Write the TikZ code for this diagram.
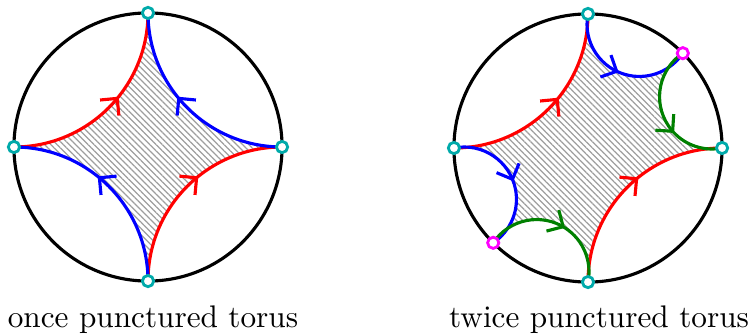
\documentclass[tikz,border=0pt]{standalone}
\usetikzlibrary{decorations.markings,patterns.meta}
\definecolor{vcyan}{RGB}{0,170,170}
\definecolor{vmag}{RGB}{255,0,255}
\definecolor{vgreen}{RGB}{0,128,0}
\tikzset{
  curve/.style={line width=1pt},
  rim/.style={line width=1pt, black},
  arr/.style={postaction={decorate},
    decoration={markings, mark=at position #1 with {\draw[line width=1pt] (-3.9pt,3.9pt) -- (0,0) -- (-3.9pt,-3.9pt);}}},
  hatch/.style={pattern={Lines[angle=-45,distance=1.4pt,line width=0.4pt]}, pattern color=black!38},
  vtx/.style={circle, draw=vcyan, fill=white, line width=0.9pt, inner sep=0pt, minimum size=3.6pt},
  ptx/.style={circle, draw=vmag, fill=white, line width=0.9pt, inner sep=0pt, minimum size=3.6pt},
  lab/.style={anchor=base, inner sep=0pt}
}
\def\rh{0.39018}
\begin{document}
\begin{tikzpicture}
\useasboundingbox (0,0) rectangle (240pt,107.2pt);
% ---------- left disk ----------
\begin{scope}[shift={(47.36pt,60.16pt)}, x=42.9pt, y=42.9pt]
  \coordinate (lL) at (180:1);
  \coordinate (lT) at (90:1);
  \coordinate (lR) at (0:1);
  \coordinate (lB) at (270:1);
  \path[hatch] (lL) arc[start angle=270,end angle=360,radius=1]
     arc[start angle=180,end angle=270,radius=1]
     arc[start angle=90,end angle=180,radius=1]
     arc[start angle=0,end angle=90,radius=1] -- cycle;
  \draw[rim] (0,0) circle[radius=1];
  \draw[curve,red,arr=0.56] (lL) arc[start angle=270,end angle=360,radius=1];
  \draw[curve,red,arr=0.56] (lB) arc[start angle=180,end angle=90,radius=1];
  \draw[curve,blue,arr=0.56] (lR) arc[start angle=270,end angle=180,radius=1];
  \draw[curve,blue,arr=0.56] (lB) arc[start angle=0,end angle=90,radius=1];
  \node[vtx] (lLv) at (lL) {};
  \node[vtx] (lTv) at (lT) {};
  \node[vtx] (lRv) at (lR) {};
  \node[vtx] (lBv) at (lB) {};
\end{scope}
% ---------- right disk ----------
\begin{scope}[shift={(188.16pt,59.84pt)}, x=42.9pt, y=42.9pt]
  \coordinate (rL) at (180:1);
  \coordinate (rT) at (90:1);
  \coordinate (rR) at (0:1);
  \coordinate (rB) at (270:1);
  \coordinate (rM1) at (45:1);
  \coordinate (rM2) at (225:1);
  \path[hatch] (rL) arc[start angle=270,end angle=360,radius=1]
     arc[start angle=168.75,end angle=326.25,radius=\rh]
     arc[start angle=123.75,end angle=281.25,radius=\rh]
     arc[start angle=90,end angle=180,radius=1]
     arc[start angle=-11.25,end angle=146.25,radius=\rh]
     arc[start angle=-56.25,end angle=101.25,radius=\rh] -- cycle;
  \draw[rim] (0,0) circle[radius=1];
  \draw[curve,red,arr=0.56] (rL) arc[start angle=270,end angle=360,radius=1];
  \draw[curve,red,arr=0.56] (rB) arc[start angle=180,end angle=90,radius=1];
  \draw[curve,blue,arr=0.48] (rT) arc[start angle=168.75,end angle=326.25,radius=\rh];
  \draw[curve,blue,arr=0.5] (rL) arc[start angle=101.25,end angle=-56.25,radius=\rh];
  \draw[curve,vgreen,arr=0.62] (rM1) arc[start angle=123.75,end angle=281.25,radius=\rh];
  \draw[curve,vgreen,arr=0.55] (rM2) arc[start angle=146.25,end angle=-11.25,radius=\rh];
  \node[vtx] (rLv) at (rL) {};
  \node[vtx] (rTv) at (rT) {};
  \node[vtx] (rRv) at (rR) {};
  \node[vtx] (rBv) at (rB) {};
  \node[ptx] (rM1v) at (rM1) {};
  \node[ptx] (rM2v) at (rM2) {};
\end{scope}
\node[lab] (cap1) at (48.96pt,2.56pt) {once punctured torus};
\node[lab] (cap2) at (191.7pt,2.56pt) {twice punctured torus};
\end{tikzpicture}
\end{document}
